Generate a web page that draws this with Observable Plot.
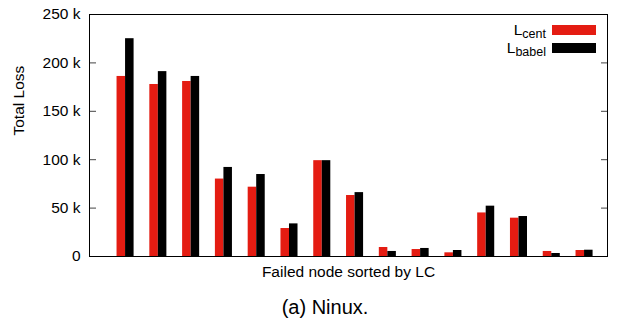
<!DOCTYPE html>
<html>
<head>
<meta charset="utf-8">
<script src="https://cdn.jsdelivr.net/npm/d3@7"></script>
<script src="https://cdn.jsdelivr.net/npm/@observablehq/plot@0.6"></script>
<style>
  html, body { margin: 0; padding: 0; background: #fff; }
  #wrap { position: relative; width: 618px; height: 318px; font-family: "Liberation Sans", Arial, sans-serif; color: #000; }
  .leg { position: absolute; font-size: 15.5px; line-height: 18px; white-space: nowrap; text-align: right; }
  .leg span.sub { font-size: 12.5px; vertical-align: -3px; }
  .sw { position: absolute; width: 44px; height: 10px; }
  #caption { position: absolute; top: 296px; left: 0; width: 650px; text-align: center; font-size: 20px; line-height: 23px; }
</style>
</head>
<body>
<div id="wrap">
  <div id="chart"></div>
  <div class="leg" style="right:72px; top:21px;">L<span class="sub">cent</span></div>
  <div class="sw" style="left:552px; top:25px; background:#e41c12;"></div>
  <div class="leg" style="right:72px; top:39px;">L<span class="sub">babel</span></div>
  <div class="sw" style="left:552px; top:43px; background:#000;"></div>
  <div id="caption">(a) Ninux.</div>
</div>
<script>
// Data (Total Loss per failed node, sorted by LC)
const nodes = d3.range(15);
const lcent  = [186000, 177700, 180800, 80000, 71600, 28900, 99000, 63000, 9300, 7200, 3800, 45000, 39600, 5200, 6200];
const lbabel = [225000, 191000, 186000, 92000, 84700, 33700, 99000, 66000, 5200, 8300, 6200, 52000, 41300, 3100, 6500];
const yTicks = [0, 50000, 100000, 150000, 200000, 250000];
const yTickLabels = ["0", "50 k", "100 k", "150 k", "200 k", "250 k"];
const seriesColors = { cent: "#e41c12", babel: "#000000" };

const BW = 0.26; // bar width in x units
const centRows = nodes.map((n, i) => ({ i: n, v: lcent[i] }));
const babelRows = nodes.map((n, i) => ({ i: n, v: lbabel[i] }));

const chart = Plot.plot({
  width: 618,
  height: 290,
  marginLeft: 89,
  marginRight: 11,
  marginTop: 14,
  marginBottom: 34,
  style: { fontFamily: "'Liberation Sans', Arial, sans-serif", fontSize: "15.5px", color: "#000", background: "transparent" },
  x: { domain: [-1.1, 14.7], axis: null },
  y: { domain: [0, 250000], axis: null },
  marks: [
    Plot.rectY(centRows, { x1: d => d.i - BW, x2: d => d.i, y1: 0, y2: "v", fill: seriesColors.cent }),
    Plot.rectY(babelRows, { x1: d => d.i, x2: d => d.i + BW, y1: 0, y2: "v", fill: seriesColors.babel }),
    Plot.axisY({ ticks: yTicks, anchor: "left", tickSize: 0, tickPadding: 9, tickFormat: d => yTickLabels[yTicks.indexOf(d)], label: null }),
    Plot.axisY({ ticks: yTicks, anchor: "left", tickSize: 7, dx: 7, tickFormat: () => "", label: null, stroke: "#444" }),
    Plot.axisY({ ticks: yTicks, anchor: "right", tickSize: 7, dx: -7, tickFormat: () => "", label: null, stroke: "#444" }),
    Plot.frame({ stroke: "#000", strokeWidth: 1 }),
    Plot.text(["Total Loss"], { frameAnchor: "left", dx: -70, rotate: -90, fontSize: 15.5 }),
    Plot.text(["Failed node sorted by LC"], { frameAnchor: "bottom", dy: 20, fontSize: 15.5 })
  ]
});
document.getElementById("chart").appendChild(chart);
</script>
</body>
</html>
